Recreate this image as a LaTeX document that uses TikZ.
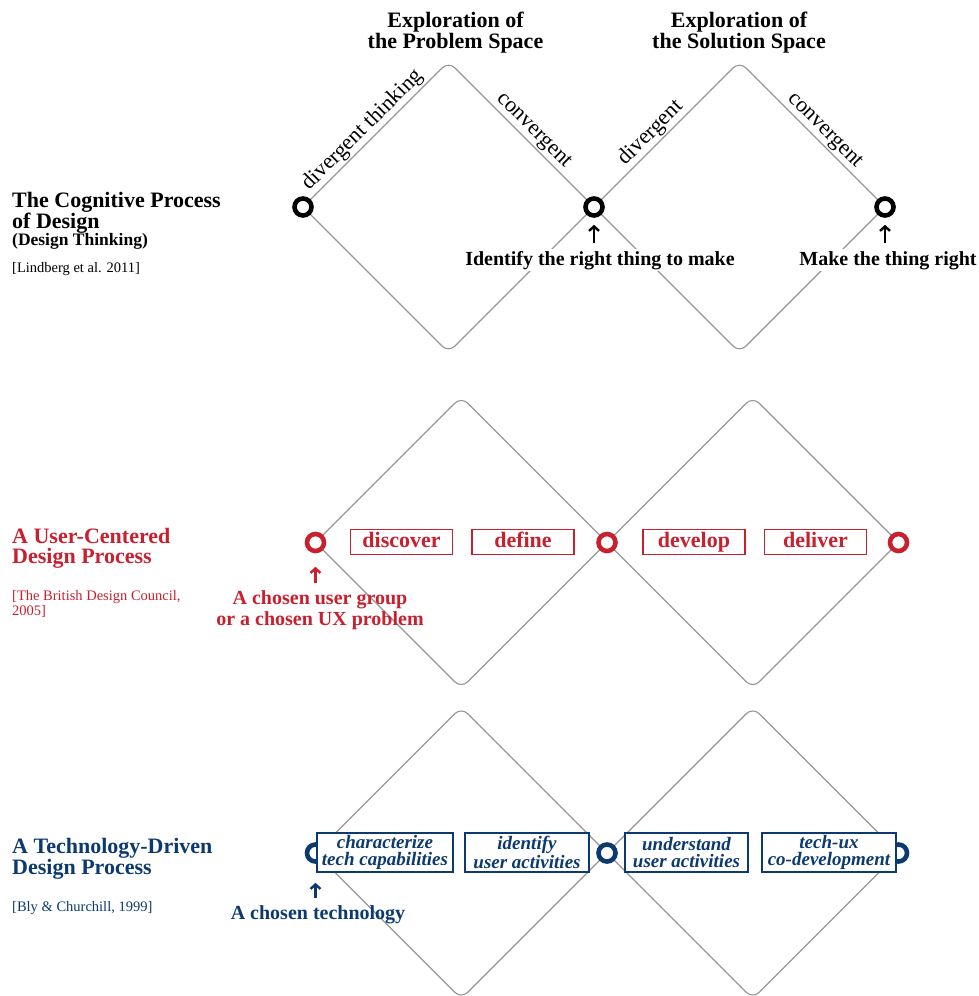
\documentclass[tikz,border=0pt]{standalone}
\usepackage{fontspec}
\setmainfont{Liberation Serif}
\usetikzlibrary{arrows.meta}
\definecolor{ucdred}{RGB}{200,32,47}
\definecolor{tdblue}{RGB}{12,58,110}
\definecolor{edgegray}{RGB}{150,150,150}

\begin{document}
\begin{tikzpicture}[x=1pt,y=-1pt,
  diamondline/.style={draw=edgegray, line width=1.1pt, rounded corners=9pt},
  hub/.style={circle, draw, fill=white, line width=4.6pt, minimum size=17pt, inner sep=0pt},
  heading/.style={font=\fontsize{22}{21}\selectfont\bfseries, align=center, inner sep=0pt},
  rowtitle/.style={font=\fontsize{22}{20}\selectfont\bfseries, align=left, inner sep=0pt, anchor=north west},
  subtitle/.style={font=\fontsize{17.5}{18}\selectfont\bfseries, inner sep=0pt, anchor=base west},
  cite/.style={font=\fontsize{14.5}{15}\selectfont, align=left, inner sep=0pt},
  phase/.style={font=\fontsize{22}{22}\selectfont, inner sep=2pt, sloped, above},
  goal/.style={font=\fontsize{20}{21}\selectfont\bfseries, align=center, inner sep=2pt},
  pointer/.style={-{Straight Barb[length=4.5pt,width=10pt]}, line width=2.4pt},
  stagebox/.style={draw=ucdred, line width=1.3pt, fill=white, text=ucdred,
    font=\fontsize{22}{22}\selectfont\bfseries, minimum width=102pt, minimum height=24.5pt,
    text height=14pt, text depth=4pt, inner sep=0pt},
  techbox/.style={draw=tdblue, line width=1.3pt, fill=white, text=tdblue,
    font=\fontsize{19}{17}\selectfont\bfseries\itshape, align=center,
    minimum height=39pt, inner sep=0pt},
]
\useasboundingbox (0,0) rectangle (978,996);
\clip (0,0) rectangle (978,996);

% ---------- vertices of the double diamonds ----------
% cognitive process
\coordinate (p11) at (303,207);   \coordinate (p12) at (594,207);   \coordinate (p13) at (885,207);
\coordinate (t11) at (448.5,61.5); \coordinate (b11) at (448.5,352.5);
\coordinate (t12) at (739.5,61.5); \coordinate (b12) at (739.5,352.5);
% user-centered process
\coordinate (p21) at (315.5,542.5); \coordinate (p22) at (607,542.5); \coordinate (p23) at (898.5,542.5);
\coordinate (t21) at (461.25,396.75); \coordinate (b21) at (461.25,688.25);
\coordinate (t22) at (752.75,396.75); \coordinate (b22) at (752.75,688.25);
% technology-driven process
\coordinate (p31) at (315.5,853); \coordinate (p32) at (607,853); \coordinate (p33) at (898.5,853);
\coordinate (t31) at (461.25,707.25); \coordinate (b31) at (461.25,998.75);
\coordinate (t32) at (752.75,707.25); \coordinate (b32) at (752.75,998.75);

% ---------- diamonds ----------
\draw[diamondline] (p11) -- (t11) -- (p12) -- (b11) -- cycle;
\draw[diamondline] (p12) -- (t12) -- (p13) -- (b12) -- cycle;
\draw[diamondline] (p21) -- (t21) -- (p22) -- (b21) -- cycle;
\draw[diamondline] (p22) -- (t22) -- (p23) -- (b22) -- cycle;
\draw[diamondline] (p31) -- (t31) -- (p32) -- (b31) -- cycle;
\draw[diamondline] (p32) -- (t32) -- (p33) -- (b32) -- cycle;

% ---------- hubs ----------
\node[hub, draw=black]  (c11) at (p11) {};
\node[hub, draw=black]  (c12) at (p12) {};
\node[hub, draw=black]  (c13) at (p13) {};
\node[hub, draw=ucdred] (c21) at (p21) {};
\node[hub, draw=ucdred] (c22) at (p22) {};
\node[hub, draw=ucdred] (c23) at (p23) {};
\node[hub, draw=tdblue] (c31) at (p31) {};
\node[hub, draw=tdblue] (c32) at (p32) {};
\node[hub, draw=tdblue] (c33) at (p33) {};

% ---------- column headings ----------
\node[heading, anchor=north] (head1) at (455.5,12) {Exploration of\\the Problem Space};
\node[heading, anchor=north] (head2) at (739,12) {Exploration of\\the Solution Space};

% ---------- thinking modes along the edges ----------
\path (p11) -- (t11) node[phase, pos=0.47] (m1) {divergent thinking};
\path (t11) -- (p12) node[phase, pos=0.53] (m2) {convergent};
\path (p12) -- (t12) node[phase, pos=0.45] (m3) {divergent};
\path (t12) -- (p13) node[phase, pos=0.53] (m4) {convergent};

% ---------- row titles ----------
\node[rowtitle] (title1) at (12,192) {The Cognitive Process\\of Design};
\node[subtitle] (sub1) at (12,245) {(Design Thinking)};
\node[cite, anchor=base west] (cite1) at (12,272) {[Lindberg et al. 2011]};

\node[rowtitle, text=ucdred] (title2) at (12,528) {A User-Centered\\Design Process};
\node[cite, anchor=north west, text=ucdred] (cite2) at (12,590) {[The British Design Council,\\2005]};

\node[rowtitle, text=tdblue] (title3) at (12,838) {A Technology-Driven\\Design Process};
\node[cite, anchor=base west, text=tdblue] (cite3) at (12,911) {[Bly \& Churchill, 1999]};

% ---------- goals and their pointers ----------
\node[goal, fill=white, anchor=base] (goal1) at (600,265) {Identify the right thing to make};
\node[goal, fill=white, anchor=base] (goal2) at (888,265) {Make the thing right};
\draw[pointer, shorten <=6pt, shorten >=7pt] (goal1.north -| c12.center) -- (c12.south);
\draw[pointer, shorten <=6pt, shorten >=7pt] (goal2.north -| c13.center) -- (c13.south);

\node[goal, text=ucdred, inner sep=0pt, anchor=north] (goal3) at (320,590.3)
  {A chosen user group\\or a chosen UX problem};
\draw[pointer, ucdred, shorten <=7pt, shorten >=13.5pt] (goal3.north -| c21.center) -- (c21.south);

\node[goal, text=tdblue, anchor=base] (goal4) at (318,919) {A chosen technology};
\draw[pointer, tdblue, shorten <=5pt, shorten >=19pt] (goal4.north -| c31.center) -- (c31.south);

% ---------- user-centered stages ----------
\node[stagebox] (discover) at (401.5,542) {discover};
\node[stagebox] (define)   at (523,542)   {define};
\node[stagebox] (develop)  at (694,542)   {develop};
\node[stagebox] (deliver)  at (815.5,542) {deliver};

% ---------- technology-driven stages ----------
\node[techbox, minimum width=136pt] (characterize) at (385,852.5)   {characterize\\tech capabilities};
\node[techbox, minimum width=124pt] (identify)     at (527,852.5)   {identify\\user activities};
\node[techbox, minimum width=123pt] (understand)   at (686.5,852.5) {understand\\user activities};
\node[techbox, minimum width=134pt] (codevelop)    at (829,852.5)   {tech-ux\\co-development};
\end{tikzpicture}
\end{document}
